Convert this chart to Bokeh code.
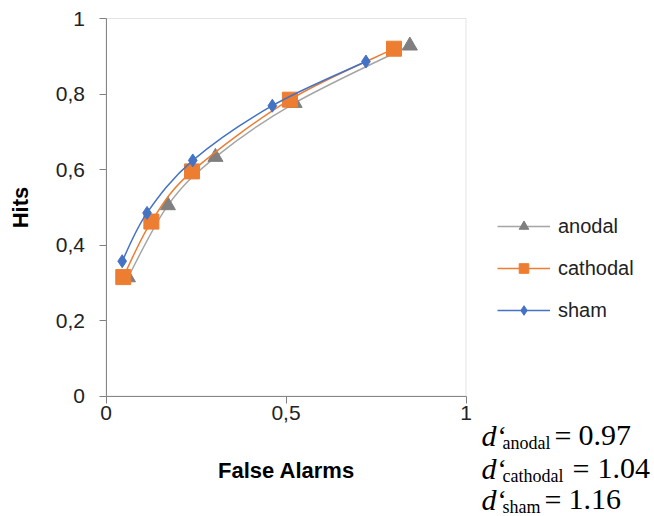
from bokeh.plotting import figure
from bokeh.models import Range1d, FixedTicker, Label, Legend, LegendItem, BoxAnnotation
from bokeh.embed import file_html
from bokeh.resources import INLINE

# ---- data ----
series_names = ["anodal", "cathodal", "sham"]
far_anodal = [0.061, 0.172, 0.304, 0.524, 0.844]
hit_anodal = [0.314, 0.505, 0.633, 0.776, 0.928]
far_cathodal = [0.048, 0.126, 0.239, 0.511, 0.800]
hit_cathodal = [0.315, 0.462, 0.595, 0.785, 0.920]
far_sham = [0.045, 0.114, 0.241, 0.462, 0.722]
hit_sham = [0.357, 0.485, 0.624, 0.769, 0.886]
dprime_values = ["0.97", "1.04", "1.16"]
x_ticks = [0, 0.5, 1]
x_tick_labels = ["0", "0,5", "1"]
y_ticks = [0, 0.2, 0.4, 0.6, 0.8, 1]
y_tick_labels = ["0", "0,2", "0,4", "0,6", "0,8", "1"]

FONT = "Liberation Sans"
SERIF = "Liberation Serif"

W, H = 654, 516
# plot area placement in pixels
FL, FR, FT, FB = 105.5, 465.5, 18.0, 395.5
sx = (FR - FL)
sy = (FB - FT)

p = figure(width=W, height=H, output_backend="svg", toolbar_location=None,
           x_range=Range1d(-FL / sx, (W - FL) / sx),
           y_range=Range1d(-(H - FB) / sy, 1 + FT / sy),
           min_border=0, min_border_left=0, min_border_right=0,
           min_border_top=0, min_border_bottom=0)
p.grid.visible = False
p.outline_line_color = None
p.background_fill_color = "white"
p.border_fill_color = "white"

# plot-area border
p.add_layout(BoxAnnotation(left=0, right=1, bottom=0, top=1, fill_alpha=0,
                           line_color="#a6a6a6", line_width=1))

for ax, ticks, labels in [(p.xaxis[0], x_ticks, x_tick_labels), (p.yaxis[0], y_ticks, y_tick_labels)]:
    ax.fixed_location = 0
    ax.bounds = (0, 1)
    ax.ticker = FixedTicker(ticks=ticks)
    ax.major_label_overrides = {t: l for t, l in zip(ticks, labels)}
    ax.minor_tick_line_color = None
    ax.major_tick_in = 0
    ax.major_tick_out = 7
    ax.axis_line_color = "#808080"
    ax.major_tick_line_color = "#808080"
    ax.major_label_text_font = FONT
    ax.major_label_text_font_size = "21px"
    ax.major_label_text_color = "#222222"
    ax.axis_label_text_font = FONT
    ax.axis_label_text_font_size = "22px"
    ax.axis_label_text_font_style = "bold"
    ax.axis_label_text_color = "black"

p.xaxis.axis_label = "False Alarms"
p.yaxis.axis_label = "Hits"
p.xaxis.major_label_standoff = 3
p.yaxis.major_label_standoff = 14
p.xaxis.axis_label_standoff = 34
p.yaxis.axis_label_standoff = 20


def smooth(xs, ys):
    n = len(xs)
    x0, y0, x1, y1, cx0, cy0, cx1, cy1 = [], [], [], [], [], [], [], []
    for i in range(n - 1):
        im = max(i - 1, 0)
        ip = min(i + 2, n - 1)
        x0.append(xs[i]); y0.append(ys[i])
        x1.append(xs[i + 1]); y1.append(ys[i + 1])
        cx0.append(xs[i] + (xs[i + 1] - xs[im]) / 6.0)
        cy0.append(ys[i] + (ys[i + 1] - ys[im]) / 6.0)
        cx1.append(xs[i + 1] - (xs[ip] - xs[i]) / 6.0)
        cy1.append(ys[i + 1] - (ys[ip] - ys[i]) / 6.0)
    return dict(x0=x0, y0=y0, x1=x1, y1=y1, cx0=cx0, cy0=cy0, cx1=cx1, cy1=cy1)


specs = [
    (far_anodal, hit_anodal, "#a5a5a5", "#7f7f7f", "triangle", 15),
    (far_cathodal, hit_cathodal, "#ed7d31", "#ed7d31", "square", 15),
    (far_sham, hit_sham, "#4472c4", "#4472c4", "diamond", 13),
]
items = []
for name, (xs, ys, lc, mc, mk, sz) in zip(series_names, specs):
    b = p.bezier(source=smooth(xs, ys), x0="x0", y0="y0", x1="x1", y1="y1",
                 cx0="cx0", cy0="cy0", cx1="cx1", cy1="cy1", line_color=lc, line_width=1.5)
    s = p.scatter(xs, ys, marker=mk, size=sz, fill_color=mc, line_color=mc)
    items.append(LegendItem(label=name, renderers=[b, s]))

legend = Legend(items=items, location=(497, 194), orientation="vertical",
                glyph_width=53, glyph_height=24, label_standoff=8, spacing=18,
                padding=0, margin=0, border_line_color=None, background_fill_alpha=0,
                label_text_font=FONT, label_text_font_size="20px", label_text_color="#222222")
p.add_layout(legend, "center")


# d' annotations (pixel positions converted to data units)
def px_to_x(px):
    return (px - FL) / sx


def py_to_y(py):
    return (FB - py) / sy


# (baseline, subscript baseline, "=" x, value x)
rows = [(435, 442, 554, 578), (468, 475, 572, 597), (499, 506, 544, 568)]
for name, val, (base, sub, eqx, vx) in zip(series_names, dprime_values, rows):
    p.add_layout(Label(x=px_to_x(481), y=py_to_y(base), text="d", text_font=SERIF,
                       text_font_size="30px", text_font_style="italic", text_color="black",
                       text_baseline="alphabetic"))
    p.add_layout(Label(x=px_to_x(497), y=py_to_y(base), text="\u2018", text_font=SERIF,
                       text_font_size="28px", text_color="black", text_baseline="alphabetic"))
    p.add_layout(Label(x=px_to_x(502), y=py_to_y(sub), text=name, text_font=SERIF,
                       text_font_size="18px", text_color="black", text_baseline="alphabetic"))
    p.add_layout(Label(x=px_to_x(eqx), y=py_to_y(base), text="=", text_font=SERIF,
                       text_font_size="30px", text_color="black", text_baseline="alphabetic"))
    p.add_layout(Label(x=px_to_x(vx), y=py_to_y(base), text=val, text_font=SERIF,
                       text_font_size="30px", text_color="black", text_baseline="alphabetic"))

open("out.html", "w").write(file_html(p, INLINE))
